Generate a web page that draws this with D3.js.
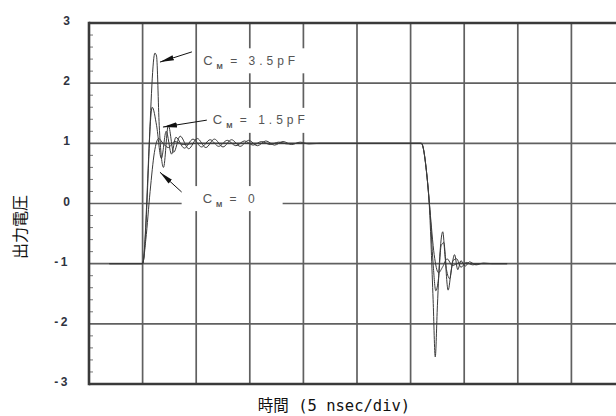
<!DOCTYPE html>
<html>
<head>
<meta charset="utf-8">
<style>
  body { margin:0; background:#fff; }
  svg { display:block; }
  .grid line { stroke:#606060; stroke-width:1.7px; }
  .trace { fill:none; stroke:#3a3a3a; stroke-width:1px; }
</style>
<script src="https://d3js.org/d3.v7.min.js"></script>
</head>
<body>
<script>

var width = 616;
var height = 416;

// axis: time in ns (5 ns per division), output voltage
var yTicks = [3, 2, 1, 0, -1, -2, -3];
var xGrid = [5, 10, 15, 20, 25, 30, 35, 40, 45];
var xTitleCJK = "時間";
var xTitleLatin = " (5 nsec/div)";
var yTitle = "出力電圧";
var capLabels = ["3.5pF", "1.5pF", "0"];

// [time ns, volts]
var traceCM0 = [[1.9,-1],[5.0,-1],[5.3,-0.6],[5.7,0.2],[6.1,0.85],[6.5,1.08],[6.9,1.0],
  [7.4,0.93],[8.0,1.03],[8.8,0.98],[10,1.0],[31.0,1.0],
  [31.5,0.5],[31.8,-0.1],[32.2,-0.85],[32.6,-1.15],[33.0,-1.05],[33.4,-0.92],
  [33.9,-1.03],[34.5,-0.99],[35.5,-1],[39,-1]];

var traceCM15 = [[1.9,-1],[5.0,-1],[5.9,1.6],[6.3,1.3],[6.75,0.75],[7.2,1.2],[7.7,0.82],
  [8.1,1.1],[8.9,0.92],[9.7,1.07],[10.5,0.94],[11.3,1.06],[12.1,0.95],[12.9,1.05],
  [13.7,0.96],[14.5,1.04],[15.3,0.97],[16.1,1.03],[16.9,0.98],[17.7,1.02],[18.5,0.99],
  [19.5,1],[31.0,1],
  [31.5,0.5],[31.8,-0.1],[32.1,-1.0],[32.35,-1.45],[32.6,-1.25],[32.85,-0.7],[33.1,-0.65],
  [33.35,-1.1],[33.65,-1.25],[33.95,-0.95],[34.3,-0.92],[34.7,-1.06],[35.2,-0.98],
  [35.8,-1.02],[36.5,-1],[39,-1]];

var traceCM35 = [[1.9,-1],[5.0,-1],[6.15,2.5],[6.3,2.45],[6.55,1.3],[6.95,0.6],[7.4,1.3],
  [7.9,0.85],[8.5,1.12],[9.3,0.91],[10.1,1.08],[10.9,0.93],[11.7,1.07],[12.5,0.94],
  [13.3,1.06],[14.1,0.95],[14.9,1.05],[15.7,0.96],[16.5,1.04],[17.3,0.97],[18.1,1.03],
  [18.9,0.98],[19.7,1.02],[20.5,0.99],[21.5,1],[31.0,1],
  [31.5,0.5],[31.75,-0.05],[32.1,-1.6],[32.3,-2.55],[32.5,-1.7],[32.75,-0.8],[33.0,-0.47],
  [33.2,-0.85],[33.5,-1.44],[33.8,-1.1],[34.1,-0.85],[34.4,-1.1],[34.7,-0.95],[35.1,-1.04],
  [35.5,-0.97],[36.1,-1.02],[36.8,-0.99],[37.6,-1],[39,-1]];

var x = d3.scaleLinear().domain([0, 50]).range([89, 625]);
var y = d3.scaleLinear().domain([-3, 3]).range([384, 23]);

var svg = d3.select("body").append("svg")
    .attr("width", width)
    .attr("height", height);

// grid
var grid = svg.append("g").attr("class", "grid");
grid.selectAll(".gx").data(xGrid).enter().append("line")
    .attr("x1", function(d) { return x(d); }).attr("x2", function(d) { return x(d); })
    .attr("y1", y(3)).attr("y2", y(-3));
grid.selectAll(".gy").data(yTicks.slice(1, -1)).enter().append("line")
    .attr("x1", x(0)).attr("x2", x(50))
    .attr("y1", function(d) { return y(d); }).attr("y2", function(d) { return y(d); });

// minor ticks on the left edge
var minor = d3.range(-30, 31, 2).map(function(d) { return d / 10; })
    .filter(function(d) { return Math.abs(d - Math.round(d)) > 0.01; });
svg.append("g").selectAll("line").data(minor).enter().append("line")
    .attr("x1", x(0)).attr("x2", x(0) + 4)
    .attr("y1", function(d) { return y(d); }).attr("y2", function(d) { return y(d); })
    .attr("stroke", "#777").attr("stroke-width", 1);

// traces
var line = d3.line()
    .x(function(d) { return x(d[0]); })
    .y(function(d) { return y(d[1]); })
    .curve(d3.curveMonotoneX);

[traceCM0, traceCM15, traceCM35].forEach(function(tr, i) {
  svg.append("path").datum(tr)
      .attr("class", "trace")
      .attr("stroke", ["#2e2e2e", "#555", "#444"][i])
      .attr("d", line);
});

// frame
var frame = svg.append("g").attr("stroke", "#3a3a3a").attr("stroke-width", 2.6);
frame.append("line").attr("x1", x(0)).attr("x2", x(50)).attr("y1", y(3)).attr("y2", y(3));
frame.append("line").attr("x1", x(0)).attr("x2", x(50)).attr("y1", y(-3)).attr("y2", y(-3));
frame.append("line").attr("x1", x(0)).attr("x2", x(0)).attr("y1", y(3) - 1.3).attr("y2", y(-3) + 1.3);
frame.append("line").attr("x1", x(50)).attr("x2", x(50)).attr("y1", y(3)).attr("y2", y(-3));

// y tick labels
svg.append("g").selectAll("text").data(yTicks).enter().append("text")
    .attr("x", 70)
    .attr("y", function(d) { return y(d) + 2; })
    .attr("text-anchor", "end")
    .attr("font-family", "Liberation Sans, Arial, sans-serif")
    .attr("font-weight", "bold")
    .attr("font-size", 12)
    .attr("fill", "#2f3340")
    .attr("letter-spacing", function(d) { return d < 0 ? 2.5 : 0; })
    .text(function(d) { return d < 0 ? "-" + (-d) : d; });

// annotations (arrow tail, tip, label start, box padding)
var defs = svg.append("defs");
defs.append("marker")
    .attr("id", "head")
    .attr("markerUnits", "userSpaceOnUse")
    .attr("viewBox", "0 -3 14 6")
    .attr("markerWidth", 14).attr("markerHeight", 6)
    .attr("refX", 14).attr("refY", 0)
    .attr("orient", "auto")
  .append("path").attr("d", "M0,-2.6L14,0L0,2.6Z").attr("fill", "#111");

var notes = [
  { tip: [6.62, 2.35], tail: [9.6, 2.52], at: [10.65, 2.38], padL: 5, padR: 6 },
  { tip: [6.9, 1.27], tail: [11.5, 1.40], at: [11.55, 1.39], padL: 6, padR: 5 },
  { tip: [6.62, 0.52], tail: [8.77, 0.17], at: [10.6, 0.09], padL: 21, padR: 24 }
];

notes.forEach(function(n, i) {
  svg.append("line")
      .attr("x1", x(n.tail[0])).attr("y1", y(n.tail[1]))
      .attr("x2", x(n.tip[0])).attr("y2", y(n.tip[1]))
      .attr("stroke", "#111").attr("stroke-width", 1)
      .attr("marker-end", "url(#head)");

  var g = svg.append("g");
  var t = g.append("text")
      .attr("x", x(n.at[0]))
      .attr("y", y(n.at[1]) + 4.5)
      .attr("font-family", "Liberation Sans, Arial, sans-serif")
      .attr("fill", "#555");
  t.append("tspan").attr("font-size", 13).text("C");
  t.append("tspan").attr("font-size", 7.5).attr("font-weight", "bold").attr("dx", 4).attr("dy", 4).text("M");
  t.append("tspan").attr("font-size", 12).attr("dy", -4).attr("letter-spacing", 4)
      .text(" = " + capLabels[i]);
  var bb = t.node().getBBox();
  g.insert("rect", "text")
      .attr("x", bb.x - n.padL).attr("y", y(n.at[1]) - 12)
      .attr("width", bb.width + n.padL + n.padR).attr("height", 25)
      .attr("fill", "#fff");
});

// axis titles
svg.append("text")
    .attr("transform", "translate(26,227) rotate(-90)")
    .attr("text-anchor", "middle")
    .attr("font-family", "Noto Sans CJK JP")
    .attr("font-size", 16)
    .attr("fill", "#111")
    .text(yTitle);

var xt = svg.append("text")
    .attr("x", 334)
    .attr("y", 411)
    .attr("text-anchor", "middle")
    .attr("font-size", 15.5)
    .attr("fill", "#111");
xt.append("tspan").attr("font-family", "Noto Sans CJK JP").text(xTitleCJK);
xt.append("tspan").attr("font-family", "DejaVu Sans Mono").attr("xml:space", "preserve").text(xTitleLatin);

</script>
</body>
</html>
